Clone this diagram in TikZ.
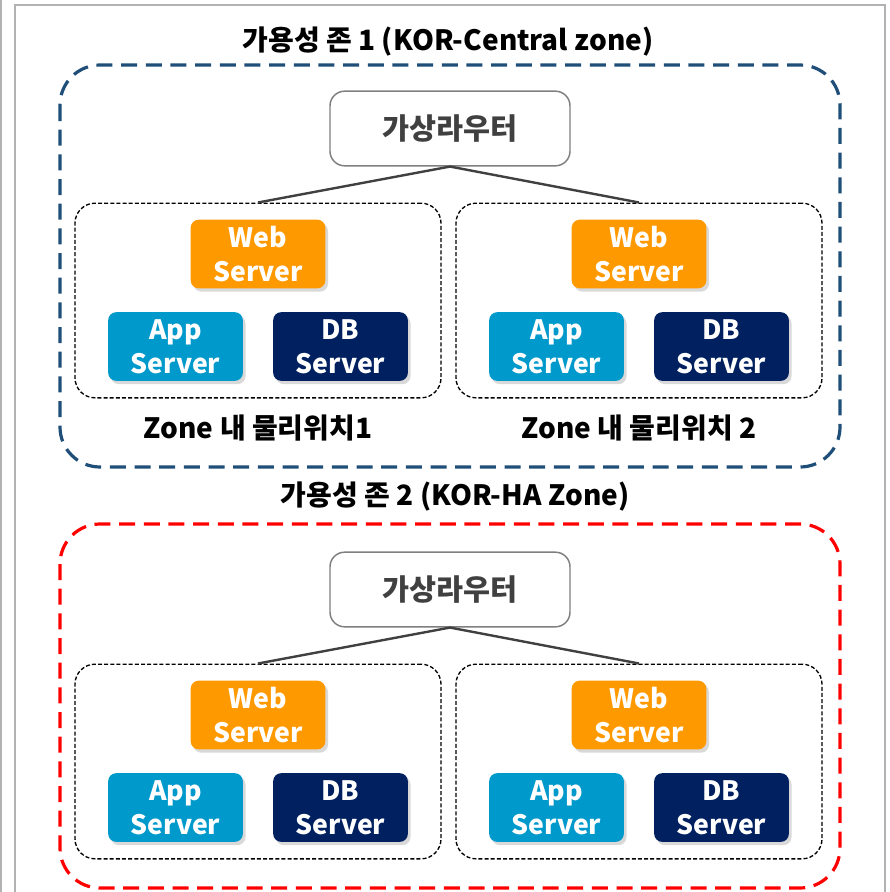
\documentclass[tikz,border=0pt]{standalone}
\usepackage{fontspec}
\setmainfont{Noto Sans CJK KR}
\usetikzlibrary{shadows}
\definecolor{zoneblue}{RGB}{31,78,121}
\definecolor{zonered}{RGB}{255,0,0}
\definecolor{weborange}{RGB}{255,153,0}
\definecolor{appblue}{RGB}{0,153,204}
\definecolor{dbnavy}{RGB}{0,32,96}
\definecolor{routergray}{RGB}{127,127,127}
\definecolor{darktext}{RGB}{64,64,64}
\definecolor{framegray}{RGB}{178,178,178}

\begin{document}
\begin{tikzpicture}[x=0.75pt,y=0.75pt,yscale=-1,xscale=1,
	srvbox/.style={rounded corners=6pt, minimum width=101pt, minimum height=51.5pt, inner sep=0pt, text=white, align=center, font=\fontsize{20}{25.5}\selectfont\bfseries, drop shadow={shadow xshift=2pt, shadow yshift=-2.5pt, opacity=0.3}},
	routerbox/.style={draw=routergray, line width=1.1pt, rounded corners=11pt, fill=white, minimum width=180pt, minimum height=56pt, text=darktext, font=\fontsize{22}{26}\selectfont\bfseries},
	placebox/.style={draw=black, line width=1pt, dash pattern={on 3pt off 1.6pt}, rounded corners=15pt, minimum width=274.5pt, minimum height=146pt},
	zonetitle/.style={font=\fontsize{21}{25}\selectfont\bfseries, inner sep=0pt},
	uplink/.style={draw=darktext, line width=1.8pt}]
	\useasboundingbox (0,0) rectangle (889,892);
	
	%Page frame
	\draw [framegray, line width=1.5pt] (1,0) -- (1,892) ;
	\draw [framegray, line width=1.5pt] (15,892) -- (15,5) -- (885,5) -- (885,892) ;
	
	%Availability zone 1
	\draw [zoneblue, line width=2.4pt, dash pattern={on 12pt off 6.5pt}, rounded corners=30pt] (60,65) rectangle (840,467) ;
	\node [zonetitle] (title1) at (448,42) {가용성 존 1 (KOR-Central zone)};
	\node [routerbox] (router1) at (450,128.5) {가상라우터};
	\node [placebox] (placeA1) at (258,300.5) {};
	\node [placebox] (placeB1) at (639,300.5) {};
	\node [srvbox, fill=weborange] (webA1) at (258,254) {Web\\Server};
	\node [srvbox, fill=appblue] (appA1) at (175.5,346.5) {App\\Server};
	\node [srvbox, fill=dbnavy] (dbA1) at (340.5,346.5) {DB\\Server};
	\node [srvbox, fill=weborange] (webB1) at (639,254) {Web\\Server};
	\node [srvbox, fill=appblue] (appB1) at (556.5,346.5) {App\\Server};
	\node [srvbox, fill=dbnavy] (dbB1) at (721.5,346.5) {DB\\Server};
	\node [zonetitle] (labelA1) at (258,428) {Zone 내 물리위치1};
	\node [zonetitle] (labelB1) at (639,428) {Zone 내 물리위치 2};
	\draw [uplink] (router1.south) -- (placeA1.north) ;
	\draw [uplink] (router1.south) -- (placeB1.north) ;
	
	%Availability zone 2
	\draw [zonered, line width=2.4pt, dash pattern={on 12pt off 6.5pt}, rounded corners=30pt] (60,524) rectangle (840,888) ;
	\node [zonetitle] (title2) at (455,497) {가용성 존 2 (KOR-HA Zone)};
	\node [routerbox] (router2) at (450,589.5) {가상라우터};
	\node [placebox] (placeA2) at (258,761.5) {};
	\node [placebox] (placeB2) at (639,761.5) {};
	\node [srvbox, fill=weborange] (webA2) at (258,715) {Web\\Server};
	\node [srvbox, fill=appblue] (appA2) at (175.5,807.5) {App\\Server};
	\node [srvbox, fill=dbnavy] (dbA2) at (340.5,807.5) {DB\\Server};
	\node [srvbox, fill=weborange] (webB2) at (639,715) {Web\\Server};
	\node [srvbox, fill=appblue] (appB2) at (556.5,807.5) {App\\Server};
	\node [srvbox, fill=dbnavy] (dbB2) at (721.5,807.5) {DB\\Server};
	\draw [uplink] (router2.south) -- (placeA2.north) ;
	\draw [uplink] (router2.south) -- (placeB2.north) ;
	
\end{tikzpicture}
\end{document}
